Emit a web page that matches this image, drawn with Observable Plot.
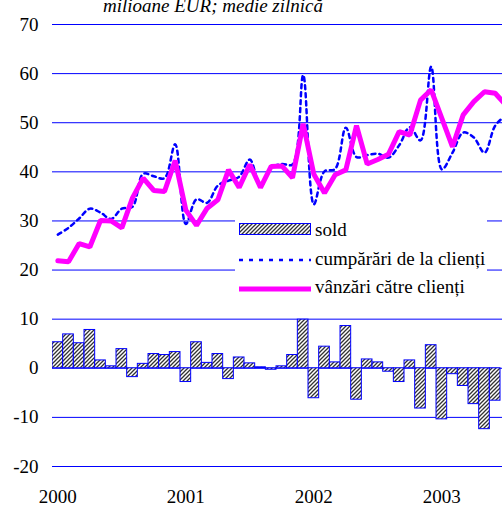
<!DOCTYPE html>
<html><head><meta charset="utf-8">
<script src="https://cdn.jsdelivr.net/npm/d3@7"></script>
<script src="https://cdn.jsdelivr.net/npm/@observablehq/plot@0.6"></script>
<style>
body{margin:0;background:#fff;}
#wrap{position:relative;width:502px;height:505px;overflow:hidden;font-family:"Liberation Serif","Times New Roman",serif;}
#title{position:absolute;left:103px;top:-4px;font-size:19px;line-height:19px;font-style:italic;white-space:nowrap;z-index:2;}
#legend{position:absolute;left:0;top:0;z-index:1;pointer-events:none;}
</style></head><body><div id="wrap"><div id="title">milioane EUR; medie zilnică</div></div>
<script>
// Monthly data, Jan 2000 onward
const years = ["2000", "2001", "2002", "2003"];
const yTicks = [70, 60, 50, 40, 30, 20, 10, 0, -10, -20];
const sales = [21.9,21.7,25.4,24.7,30.1,30.0,28.6,34.7,38.7,36.2,36.0,42.3,
  32.2,29.1,32.6,34.3,40.4,36.8,41.5,36.8,41.1,41.2,38.8,49.8,
  39.5,35.7,39.4,40.4,49.4,41.6,42.5,43.6,48.2,47.5,54.6,56.7,
  50.9,45.1,51.6,54.3,56.3,56.0,53.6];
const purchases = [27.2,28.6,30.5,32.5,31.7,30.4,32.5,32.9,39.6,39.1,38.7,45.6,
  29.4,34.4,33.7,37.2,38.2,39.0,42.5,37.0,40.8,41.6,41.5,59.7,
  33.4,40.1,40.6,49.0,43.0,43.4,43.7,42.9,45.4,49.1,46.4,61.4,
  40.5,43.9,48.0,47.0,43.9,49.4,51.5];
const sold = [5.3,6.9,5.1,7.8,1.6,0.4,3.9,-1.8,0.9,2.9,2.7,3.3,
  -2.8,5.3,1.1,2.9,-2.2,2.2,1.0,0.2,-0.3,0.4,2.7,9.9,
  -6.1,4.4,1.2,8.6,-6.4,1.8,1.2,-0.7,-2.8,1.6,-8.2,4.7,
  -10.4,-1.2,-3.6,-7.3,-12.4,-6.6];
const legendLabels = ["sold", "cumpărări de la clienți", "vânzări către clienți"];

const nMonths = sales.length;
const salesData = sales.map((v, i) => ({m: i + 0.5, v}));
const purchData = purchases.map((v, i) => ({m: i + 0.5, v}));
const soldData = sold.map((v, i) => ({m0: i, m1: i + 1, v}));
const xTicks = years.map((_, i) => i * 12 + 0.5);

const chart = Plot.plot({
  width: 502, height: 505,
  marginTop: 24, marginBottom: 39, marginLeft: 52, marginRight: 0,
  style: {fontFamily: "Liberation Serif", fontSize: "19px", color: "black", background: "white"},
  x: {type: "linear", domain: [0, nMonths], range: [52, 52 + nMonths * 10.667], label: null},
  y: {domain: [-20, 70], label: null},
  marks: [
    Plot.ruleY(yTicks, {stroke: "blue", strokeWidth: 1}),
    Plot.rect(soldData, {x1: "m0", x2: "m1", y1: d => 0, y2: "v", fill: "url(#hatch)", stroke: "blue", strokeWidth: 1, inset: 0, clip: true}),
    Plot.lineY(purchData, {x: "m", y: "v", stroke: "blue", strokeWidth: 2.5, strokeDasharray: "4,4", curve: "catmull-rom", clip: true}),
    Plot.lineY(salesData, {x: "m", y: "v", stroke: "#ff00ff", strokeWidth: 5, strokeLinejoin: "miter", clip: true}),
    Plot.axisY(yTicks, {tickSize: 0, tickPadding: 14, fontSize: 19, fontFamily: "Liberation Serif", label: null, tickFormat: d => String(d)}),
    Plot.axisX(xTicks, {tickSize: 0, tickPadding: 23, fontSize: 19, fontFamily: "Liberation Serif", label: null, tickFormat: d => years[xTicks.indexOf(d)]})
  ]
});

const defs = d3.select(chart).insert("defs", ":first-child");
const pat = defs.append("pattern").attr("id", "hatch").attr("patternUnits", "userSpaceOnUse")
  .attr("width", 4).attr("height", 4);
pat.append("rect").attr("width", 4).attr("height", 4).attr("fill", "white");
pat.append("path").attr("d", "M-1,1 l2,-2 M0,4 l4,-4 M3,5 l2,-2").attr("stroke", "#333").attr("stroke-width", 1.3);

const wrap = document.getElementById("wrap");
wrap.appendChild(chart);

// legend overlay
const lg = d3.select(wrap).append("svg").attr("id", "legend").attr("width", 502).attr("height", 505);
lg.append("rect").attr("x", 235).attr("y", 212).attr("width", 252).attr("height", 90).attr("fill", "white");
lg.append("rect").attr("x", 239.5).attr("y", 223.5).attr("width", 71).attr("height", 11)
  .attr("fill", "url(#hatch)").attr("stroke", "blue").attr("stroke-width", 1);
lg.append("line").attr("x1", 239).attr("x2", 311).attr("y1", 260).attr("y2", 260)
  .attr("stroke", "blue").attr("stroke-width", 2.5).attr("stroke-dasharray", "4,6");
lg.append("line").attr("x1", 239).attr("x2", 311).attr("y1", 289).attr("y2", 289)
  .attr("stroke", "#ff00ff").attr("stroke-width", 5);
[236, 265, 293].forEach((y, i) => {
  lg.append("text").attr("x", 315).attr("y", y).text(legendLabels[i])
    .attr("font-family", "Liberation Serif").attr("font-size", 19).attr("fill", "black");
});
</script>
</body></html>
